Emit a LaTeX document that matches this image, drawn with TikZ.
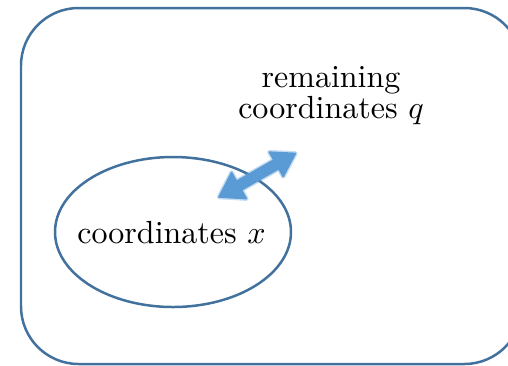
\documentclass[tikz,border=0pt]{standalone}
\usepackage{tikz}
\usetikzlibrary{shapes.geometric}
\definecolor{edgeblue}{HTML}{41719C}
\definecolor{arrowblue}{HTML}{5B9BD5}
\tikzset{
  outline/.style={draw=edgeblue, line width=0.78pt},
  label/.style={inner sep=0pt, font=\fontsize{10}{9.7}\selectfont},
  blockarrow/.style={fill=arrowblue, draw=arrowblue, line width=0.5pt, line join=round},
  softedge/.style={draw=arrowblue, draw opacity=0.35, line width=1.4pt, line join=round}
}
\begin{document}
\begin{tikzpicture}[x=0.3125pt, y=-0.3125pt]
  \useasboundingbox (0,0) rectangle (508,365);
  \clip (0,0) rectangle (508,365);

  % outer region
  \draw[outline, rounded corners=18pt] (21,8) rectangle (522,364);

  % inner region
  \node[outline, ellipse, minimum width=236*0.3125pt, minimum height=150*0.3125pt,
        inner sep=0pt] (inner) at (173,232) {};
  \node[label, anchor=base] (xlabel) at (171.5,243) {coordinates $x$};

  \node[label, align=center] (qlabel) at (331,95.5) {remaining\\coordinates $q$};

  % double-headed block arrow between the two regions, with a soft rim
  \begin{scope}[shift={(219,197)}, rotate=29.7]
    \path[softedge] (0,0) -- (23,-15) -- (23,-5) -- (66,-5) -- (66,-14)
      -- (88,0) -- (66,14) -- (66,5) -- (23,5) -- (23,15) -- cycle;
    \path[blockarrow] (0,0) -- (23,-15) -- (23,-5) -- (66,-5) -- (66,-14)
      -- (88,0) -- (66,14) -- (66,5) -- (23,5) -- (23,15) -- cycle;
  \end{scope}
\end{tikzpicture}
\end{document}
